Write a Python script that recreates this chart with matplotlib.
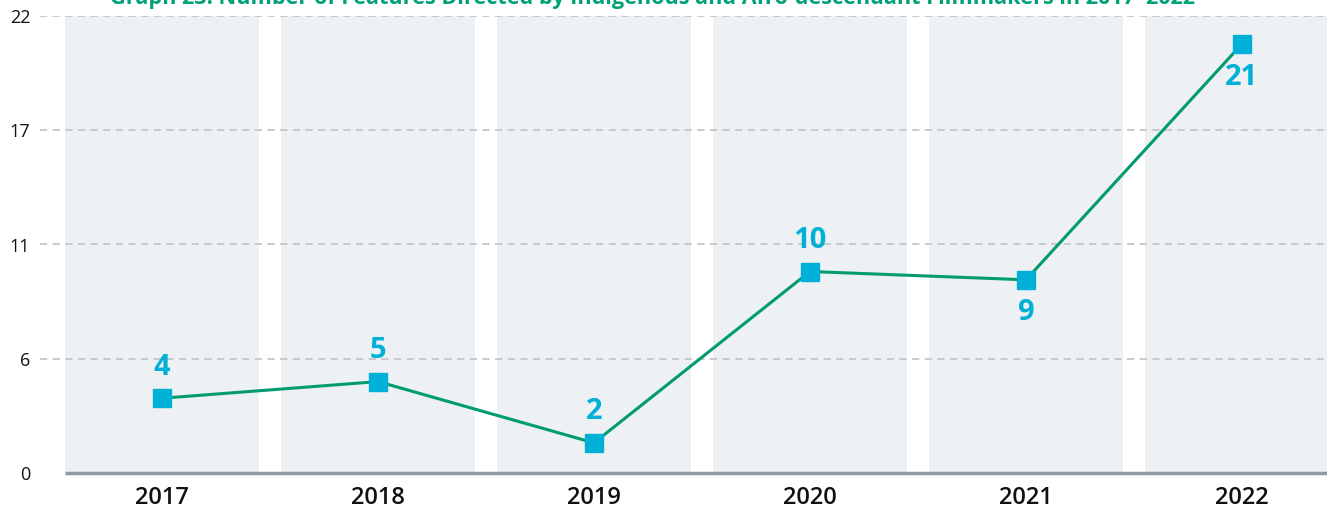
import matplotlib.pyplot as plt

# Data
years = ["2017", "2018", "2019", "2020", "2021", "2022"]
values = [3.6, 4.4, 1.45, 9.7, 9.3, 20.65]
labels = ["4", "5", "2", "10", "9", "21"]
label_above = [True, True, True, True, False, False]
ytick_pos = [0, 5.5, 11, 16.5, 22]
ytick_labels = ["0", "6", "11", "17", "22"]

title = ("Graph 23: Number of Features Directed by Indigenous and "
         "Afro-descendant Filmmakers in 2017\u20132022")

plt.rcParams["font.family"] = ["Open Sans", "DejaVu Sans"]

fig = plt.figure(figsize=(13.27, 5.11), dpi=100)
ax = fig.add_axes([40 / 1327, 38 / 511, 1 - 40 / 1327, 457 / 511])

x = list(range(len(years)))
half = 0.449

# Background bands per year
for i in x:
    ax.axvspan(i - half, i + half, color="#edf1f4", zorder=0, lw=0)

# Dashed gridlines
for yv in ytick_pos[1:]:
    ax.axhline(yv, color="#c4c6c8", lw=1.3, ls=(0, (4, 3)), zorder=1)

# Bottom axis line
ax.plot([-half, 6], [0, 0], color="#8a9ba6", lw=2.5, zorder=2,
        solid_capstyle="butt", clip_on=False)

ax.plot(x, values, color="#009b6e", lw=2.2, zorder=3)
ax.plot(x, values, ls="none", marker="s", ms=12.5, color="#00b0d6",
        zorder=4)

for i, (v, lab, up) in enumerate(zip(values, labels, label_above)):
    offset = 31 if up else -33
    ax.annotate(lab, (i, v), xytext=(0, offset), textcoords="offset pixels",
                ha="center", va="center", fontsize=21, fontweight="bold",
                color="#00b0d6", zorder=5)

ax.set_xlim(-0.565, 5.394)
ax.set_ylim(0, 22)
ax.set_xticks(x)
ax.set_xticklabels(years, fontsize=17, fontweight="semibold", color="#111111")
ax.set_yticks(ytick_pos)
ax.set_yticklabels(ytick_labels, fontsize=13, color="#111111")
ax.tick_params(axis="both", length=0)
ax.tick_params(axis="y", pad=7)
ax.tick_params(axis="x", pad=9)
for s in ax.spines.values():
    s.set_visible(False)

fig.text(653 / 1327, 1 - 4 / 511, title, ha="center", va="baseline",
         fontsize=15.6, fontweight="bold", color="#00a176")

fig.savefig("out.png", dpi=100)
